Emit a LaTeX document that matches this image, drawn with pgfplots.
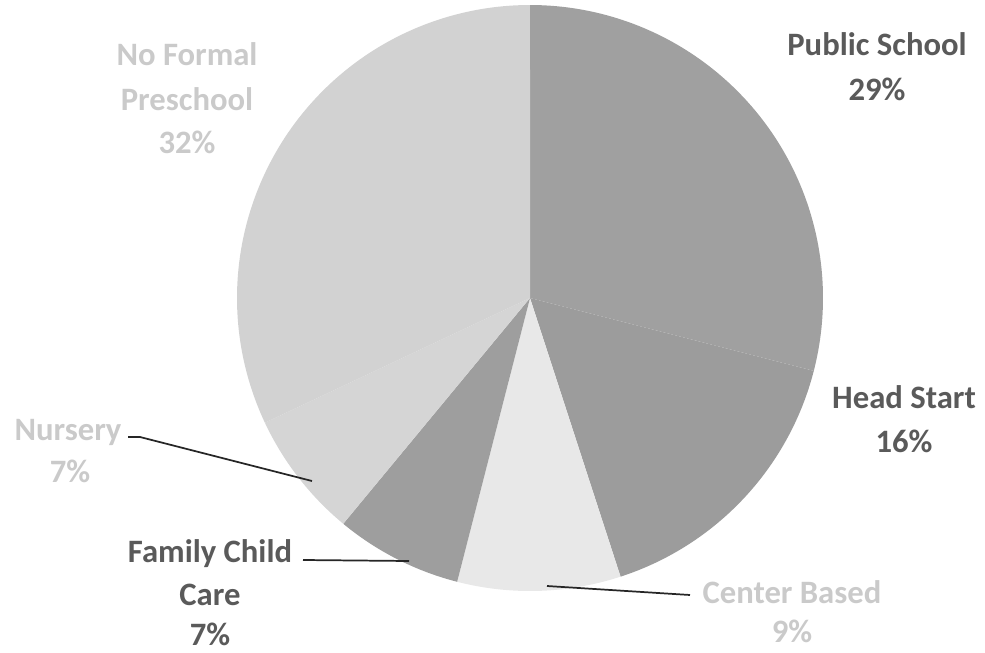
\documentclass[border=0pt]{standalone}
\usepackage{pgfplots}
\pgfplotsset{compat=1.18}
\usepackage{fontspec}
\setmainfont{Carlito}
\definecolor{cPublic}{HTML}{A0A0A0}
\definecolor{cHead}{HTML}{9C9C9C}
\definecolor{cCenter}{HTML}{E8E8E8}
\definecolor{cFamily}{HTML}{9E9E9E}
\definecolor{cNursery}{HTML}{D5D5D5}
\definecolor{cNoFormal}{HTML}{D2D2D2}
\definecolor{darklbl}{HTML}{5A5A5A}
\definecolor{lightlbl}{HTML}{CACACA}
\begin{document}
\begin{tikzpicture}
\begin{axis}[
  x=0.75pt, y=0.75pt,
  xmin=0, xmax=985, ymin=0, ymax=653,
  y dir=reverse,
  hide axis, clip=false,
]
\draw[draw=none] (rel axis cs:0,0) rectangle (rel axis cs:1,1);
% shares in percent: 29, 16, 9, 7, 7, 32 (clockwise from 12 o'clock)
\addplot[fill=cPublic, draw=none, domain=0:29*3.6, samples=120]
  ({530+293*sin(x)}, {298-293*cos(x)}) -- (axis cs:530,298) -- cycle;
\addplot[fill=cHead, draw=none, domain=29*3.6:45*3.6, samples=80]
  ({530+293*sin(x)}, {298-293*cos(x)}) -- (axis cs:530,298) -- cycle;
\addplot[fill=cCenter, draw=none, domain=45*3.6:54*3.6, samples=50]
  ({530+293*sin(x)}, {298-293*cos(x)}) -- (axis cs:530,298) -- cycle;
\addplot[fill=cFamily, draw=none, domain=54*3.6:61*3.6, samples=40]
  ({530+293*sin(x)}, {298-293*cos(x)}) -- (axis cs:530,298) -- cycle;
\addplot[fill=cNursery, draw=none, domain=61*3.6:68*3.6, samples=40]
  ({530+293*sin(x)}, {298-293*cos(x)}) -- (axis cs:530,298) -- cycle;
\addplot[fill=cNoFormal, draw=none, domain=68*3.6:100*3.6, samples=120]
  ({530+293*sin(x)}, {298-293*cos(x)}) -- (axis cs:530,298) -- cycle;

% leader lines
\draw[black!85, line width=1.3pt] (axis cs:128,437) -- (axis cs:140,437) -- (axis cs:312,481);
\draw[black!85, line width=1.3pt] (axis cs:303,560) -- (axis cs:409,561);
\draw[black!85, line width=1.3pt] (axis cs:547,586) -- (axis cs:690,595);

% labels
\tikzset{lbl/.style={anchor=base, inner sep=0pt, font=\fontsize{24.5}{30}\selectfont\bfseries}}
\node[lbl, text=darklbl] at (axis cs:877,55) {Public School};
\node[lbl, text=darklbl] at (axis cs:877,100) {29\%};
\node[lbl, text=darklbl] at (axis cs:904,408) {Head Start};
\node[lbl, text=darklbl] at (axis cs:904,452) {16\%};
\node[lbl, text=lightlbl] at (axis cs:792,603) {Center Based};
\node[lbl, text=lightlbl] at (axis cs:792,642) {9\%};
\node[lbl, text=darklbl] at (axis cs:210,562) {Family Child};
\node[lbl, text=darklbl] at (axis cs:210,605) {Care};
\node[lbl, text=darklbl] at (axis cs:210,645) {7\%};
\node[lbl, text=lightlbl] at (axis cs:68,440) {Nursery};
\node[lbl, text=lightlbl] at (axis cs:70,482) {7\%};
\node[lbl, text=lightlbl] at (axis cs:187,65) {No Formal};
\node[lbl, text=lightlbl] at (axis cs:187,110) {Preschool};
\node[lbl, text=lightlbl] at (axis cs:187,153) {32\%};
\end{axis}
\end{tikzpicture}
\end{document}
